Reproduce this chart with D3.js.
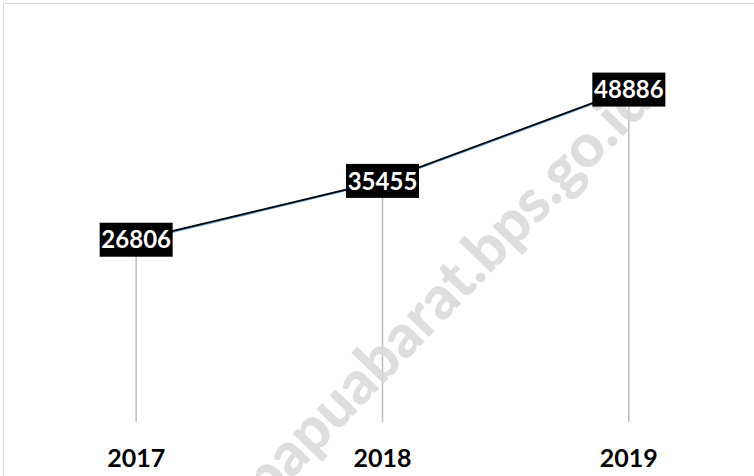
<!DOCTYPE html>
<html>
<head>
<meta charset="utf-8">
<script src="https://cdn.jsdelivr.net/npm/d3@7"></script>
<style>
    body { margin: 0; background: #fff; }
    svg { display: block; }
</style>
</head>
<body>
<div id="chart"></div>
<script>
const years = ["2017", "2018", "2019"];
const values = [26806, 35455, 48886];
const yDomain = [0, 60000];
const watermarkText = "papuabarat.bps.go.id";

const width = 754, height = 476;

const svg = d3.select("#chart")
    .append("svg")
    .attr("width", width)
    .attr("height", height);

// frame (only left and top edge are visible in the crop)
svg.append("path")
    .attr("d", `M3.5,${height} V3.5 H${width}`)
    .attr("fill", "none")
    .attr("stroke", "#d9d9d9")
    .attr("stroke-width", 1);

const x = d3.scalePoint()
    .domain(years)
    .range([13, 752])
    .padding(0.5);

const y = d3.scaleLinear()
    .domain(yDomain)
    .range([422, 14]);

const data = years.map((yr, i) => ({ year: yr, value: values[i] }));

// drop lines
svg.append("g")
    .selectAll("line")
    .data(data)
    .join("line")
    .attr("x1", d => x(d.year))
    .attr("x2", d => x(d.year))
    .attr("y1", d => y(d.value))
    .attr("y2", y(0))
    .attr("stroke", "#bfbfbf")
    .attr("stroke-width", 1.5);

// watermark
svg.append("text")
    .attr("transform", "translate(655,103) rotate(-46)")
    .attr("text-anchor", "end")
    .attr("font-family", "Lato, 'Open Sans', sans-serif")
    .attr("font-weight", 900)
    .attr("font-size", 60)
    .attr("fill", "#d9d9d9")
    .attr("opacity", 0.85)
    .text(watermarkText);

const line = d3.line()
    .x(d => x(d.year))
    .y(d => y(d.value));

svg.append("path")
    .datum(data)
    .attr("d", line)
    .attr("transform", "translate(0,1)")
    .attr("fill", "none")
    .attr("stroke", "#5b9bd5")
    .attr("stroke-width", 1.5);

svg.append("path")
    .datum(data)
    .attr("d", line)
    .attr("fill", "none")
    .attr("stroke", "#000")
    .attr("stroke-width", 1.8);

// value labels
const labels = svg.append("g")
    .selectAll("g")
    .data(data)
    .join("g")
    .attr("transform", d => `translate(${x(d.year)},${y(d.value)})`);

labels.append("rect")
    .attr("x", -36.5)
    .attr("y", -17)
    .attr("width", 73)
    .attr("height", 34)
    .attr("fill", "#000");

labels.append("text")
    .attr("text-anchor", "middle")
    .attr("dy", "0.36em")
    .attr("font-family", "Lato, 'Open Sans', sans-serif")
    .attr("font-weight", "bold")
    .attr("font-size", 24)
    .attr("fill", "#fff")
    .text(d => d.value);

// year labels
svg.append("g")
    .selectAll("text")
    .data(years)
    .join("text")
    .attr("x", d => x(d))
    .attr("y", 458)
    .attr("dy", "0.36em")
    .attr("text-anchor", "middle")
    .attr("font-family", "Lato, 'Open Sans', sans-serif")
    .attr("font-weight", "bold")
    .attr("font-size", 25)
    .attr("fill", "#000")
    .text(d => d);
</script>
</body>
</html>
